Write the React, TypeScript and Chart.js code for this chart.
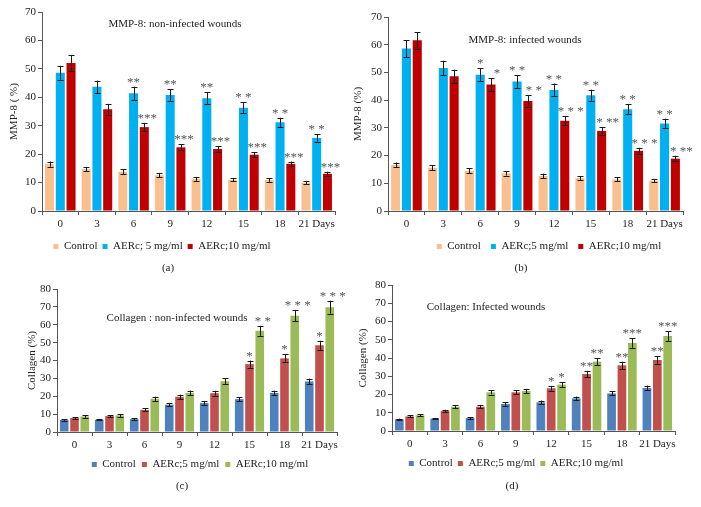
import React, { useEffect, useRef } from "react";
import { Chart, registerables } from "chart.js";

Chart.register(...registerables);

const FONT = "'Liberation Serif', 'DejaVu Serif', serif";

// ---- categories ----
const days = ["0", "3", "6", "9", "12", "15", "18", "21 Days"];

// ---- (a) MMP-8: non-infected wounds ----
const mmpNonControl = [16.5, 14.7, 13.8, 12.6, 11.3, 11.0, 10.9, 10.0];
const mmpNonControlErr = [0.9, 0.8, 0.8, 0.8, 0.7, 0.6, 0.6, 0.6];
const mmpNon5 = [48.6, 43.7, 41.4, 40.8, 39.7, 36.3, 31.2, 25.7];
const mmpNon5Err = [2.5, 2.2, 2.3, 2.1, 2.0, 1.9, 1.6, 1.3];
const mmpNon10 = [52.1, 35.8, 29.5, 22.4, 21.8, 19.8, 16.6, 13.1];
const mmpNon10Err = [2.8, 1.9, 1.5, 1.1, 1.0, 0.8, 0.8, 0.7];
const mmpNon5Notes = ["", "", "**", "**", "**", "* *", "* *", "* *"];
const mmpNon10Notes = ["", "", "***", "***", "***", "***", "***", "***"];

// ---- (b) MMP-8: infected wounds ----
const mmpInfControl = [16.6, 15.6, 14.5, 13.6, 12.7, 11.9, 11.4, 11.0];
const mmpInfControlErr = [0.9, 0.9, 0.9, 0.8, 0.8, 0.7, 0.7, 0.6];
const mmpInf5 = [58.6, 51.6, 49.2, 46.7, 43.7, 41.8, 36.7, 31.6];
const mmpInf5Err = [3.0, 2.6, 2.4, 2.4, 2.3, 2.0, 1.8, 1.7];
const mmpInf10 = [61.6, 48.6, 45.6, 39.7, 32.6, 28.9, 21.7, 18.9];
const mmpInf10Err = [3.0, 2.4, 2.4, 2.0, 1.7, 1.4, 1.1, 1.0];
const mmpInf5Notes = ["", "", "*", "* *", "* *", "* *", "* *", "* *"];
const mmpInf10Notes = ["", "", "*", "* *", "* * *", "* **", "* * *", "* **"];

// ---- (c) Collagen: non-infected wounds ----
const colNonControl = [6.7, 6.9, 7.2, 15.3, 16.2, 18.4, 21.9, 28.3];
const colNonControlErr = [0.4, 0.4, 0.4, 1.0, 1.0, 1.0, 1.2, 1.6];
const colNon5 = [7.8, 8.9, 12.4, 19.7, 21.7, 38.0, 41.2, 48.5];
const colNon5Err = [0.5, 0.6, 0.8, 1.2, 1.3, 2.0, 2.2, 2.6];
const colNon10 = [8.7, 9.3, 18.6, 21.9, 28.4, 56.6, 65.1, 69.8];
const colNon10Err = [0.8, 0.8, 1.2, 1.3, 1.6, 2.8, 3.2, 3.6];
const colNon5Notes = ["", "", "", "", "", "*", "*", "*"];
const colNon10Notes = ["", "", "", "", "", "* *", "* * *", "* * *"];

// ---- (d) Collagen: Infected wounds ----
const colInfControl = [6.4, 6.8, 7.1, 14.8, 15.7, 17.9, 20.6, 23.6];
const colInfControlErr = [0.4, 0.4, 0.4, 0.9, 1.0, 1.0, 1.1, 1.3];
const colInf5 = [8.0, 11.0, 13.3, 21.2, 23.4, 31.2, 36.0, 38.9];
const colInf5Err = [0.5, 0.6, 0.7, 1.1, 1.3, 1.8, 2.0, 2.1];
const colInf10 = [8.6, 13.3, 21.2, 21.9, 25.4, 38.0, 48.2, 52.1];
const colInf10Err = [0.5, 0.8, 1.2, 1.2, 1.4, 2.0, 2.6, 2.7];
const colInf5Notes = ["", "", "", "", "*", "**", "**", "**"];
const colInf10Notes = ["", "", "", "", "*", "**", "***", "***"];

// ---- plugins ----
const errorBars = {
  id: "errorBars",
  afterDatasetsDraw(chart: any) {
    const ctx = chart.ctx;
    const ys = chart.scales.y;
    chart.data.datasets.forEach((ds: any, i: number) => {
      const meta = chart.getDatasetMeta(i);
      meta.data.forEach((bar: any, j: number) => {
        const v = ds.data[j];
        const e = ds.errors ? ds.errors[j] : 0;
        const yt = ys.getPixelForValue(v + e);
        const yb = ys.getPixelForValue(v - e);
        const x = Math.round(bar.x) + 0.5;
        ctx.save();
        ctx.strokeStyle = "#1a1a1a";
        ctx.lineWidth = 1;
        ctx.beginPath();
        ctx.moveTo(x, yt);
        ctx.lineTo(x, yb);
        ctx.moveTo(x - 3, Math.round(yt) + 0.5);
        ctx.lineTo(x + 3, Math.round(yt) + 0.5);
        ctx.moveTo(x - 3, Math.round(yb) + 0.5);
        ctx.lineTo(x + 3, Math.round(yb) + 0.5);
        ctx.stroke();
        const note = ds.notes ? ds.notes[j] : "";
        if (note) {
          ctx.fillStyle = "#555";
          ctx.font = `13px ${FONT}`;
          ctx.textAlign = "center";
          ctx.textBaseline = "alphabetic";
          ctx.fillText(note, bar.x + (ds.noteDx || 0), yt - 1);
        }
        ctx.restore();
      });
    });
  },
};

const innerTitle = {
  id: "innerTitle",
  afterDraw(chart: any, _args: any, opts: any) {
    if (!opts || !opts.text) return;
    const ctx = chart.ctx;
    ctx.save();
    ctx.fillStyle = "#222";
    ctx.font = `11px ${FONT}`;
    ctx.textAlign = "center";
    ctx.textBaseline = "middle";
    ctx.fillText(opts.text, opts.x, opts.y);
    ctx.restore();
  },
};

const legendShift = {
  id: "legendShift",
  afterLayout(chart: any, _args: any, opts: any) {
    const lg = chart.legend;
    if (!lg || opts == null || opts.center == null) return;
    const dx = opts.center - (lg.left + lg.right) / 2;
    lg.left += dx;
    lg.right += dx;
  },
};

type Series = {
  label: string;
  data: number[];
  err: number[];
  color: string;
  notes?: string[];
  noteDx?: number;
};

type PanelProps = {
  left: number;
  top: number;
  width: number;
  height: number;
  pad: { left: number; right: number; top: number; bottom: number };
  yWidth: number;
  xHeight: number;
  yMax: number;
  yTitle: string;
  titlePad: number;
  series: Series[];
  inner: { text: string; x: number; y: number };
  legendCenter: number;
  legendPad: number;
};

function Panel(p: PanelProps) {
  const ref = useRef<HTMLCanvasElement>(null);
  useEffect(() => {
    const chart = new Chart(ref.current as HTMLCanvasElement, {
      type: "bar",
      data: {
        labels: days,
        datasets: p.series.map((s) => ({
          label: s.label,
          data: s.data,
          backgroundColor: s.color,
          borderWidth: 0,
          categoryPercentage: 0.88,
          barPercentage: 0.84,
          errors: s.err,
          notes: s.notes,
          noteDx: s.noteDx || 0,
        })) as any,
      },
      options: {
        responsive: false,
        animation: false,
        devicePixelRatio: 1,
        layout: { padding: p.pad },
        scales: {
          x: {
            ticks: {
              color: "#222",
              font: { family: FONT, size: 11 },
              padding: 3,
              autoSkip: false,
              maxRotation: 0,
            },
            grid: {
              drawOnChartArea: false,
              drawTicks: true,
              tickLength: 4,
              color: "#555",
              offset: true,
            },
            border: { display: true, color: "#555" },
            afterFit: (s: any) => {
              s.height = p.xHeight;
            },
          },
          y: {
            min: 0,
            max: p.yMax,
            ticks: {
              stepSize: 10,
              color: "#222",
              font: { family: FONT, size: 11 },
              padding: 2,
            },
            grid: {
              drawOnChartArea: false,
              drawTicks: true,
              tickLength: 4,
              color: "#555",
            },
            border: { display: true, color: "#555" },
            title: {
              display: true,
              text: p.yTitle,
              color: "#222",
              font: { family: FONT, size: 11 },
              padding: p.titlePad,
            },
            afterFit: (s: any) => {
              s.width = p.yWidth;
            },
          },
        },
        plugins: {
          legend: {
            display: true,
            position: "bottom",
            labels: {
              boxWidth: 5,
              boxHeight: 5,
              padding: p.legendPad,
              color: "#222",
              font: { family: FONT, size: 11 },
            },
          },
          tooltip: { enabled: false },
          innerTitle: p.inner,
          legendShift: { center: p.legendCenter },
        } as any,
      },
      plugins: [errorBars, innerTitle, legendShift],
    });
    return () => chart.destroy();
  }, []);
  return (
    <canvas
      ref={ref}
      width={p.width}
      height={p.height}
      style={{
        position: "absolute",
        left: p.left,
        top: p.top,
        width: p.width,
        height: p.height,
      }}
    />
  );
}

const Caption = ({ text, x, y }: { text: string; x: number; y: number }) => (
  <div
    style={{
      position: "absolute",
      left: x - 20,
      top: y - 7,
      width: 40,
      textAlign: "center",
      font: `11px ${FONT}`,
      lineHeight: "14px",
      color: "#222",
    }}
  >
    {text}
  </div>
);

const peach = "#F9BF8F";
const sky = "#00B0F0";
const crimson = "#C00000";
const blue = "#4F81BD";
const red = "#C0504D";
const green = "#9BBB59";

export default function App() {
  return (
    <div
      style={{
        position: "absolute",
        left: 0,
        top: 0,
        width: 701,
        height: 507,
        background: "#fff",
        overflow: "hidden",
      }}
    >
      <Panel
        left={0}
        top={0}
        width={345}
        height={262}
        pad={{ left: 4, right: 10, top: 12, bottom: 0 }}
        yWidth={38}
        xHeight={25}
        yMax={70}
        yTitle="MMP-8 ( %)"
        titlePad={4}
        legendCenter={162}
        legendPad={5}
        inner={{ text: "MMP-8: non-infected wounds", x: 175, y: 24 }}
        series={[
          { label: "Control", data: mmpNonControl, err: mmpNonControlErr, color: peach },
          { label: "AERc; 5 mg/ml", data: mmpNon5, err: mmpNon5Err, color: sky, notes: mmpNon5Notes },
          { label: "AERc;10 mg/ml", data: mmpNon10, err: mmpNon10Err, color: crimson, notes: mmpNon10Notes, noteDx: 3 },
        ]}
      />
      <Panel
        left={350}
        top={0}
        width={343}
        height={262}
        pad={{ left: 0, right: 10, top: 17, bottom: 0 }}
        yWidth={38}
        xHeight={20}
        yMax={70}
        yTitle="MMP-8 (%)"
        titlePad={2}
        legendCenter={199}
        legendPad={10}
        inner={{ text: "MMP-8: infected wounds", x: 175, y: 40 }}
        series={[
          { label: "Control", data: mmpInfControl, err: mmpInfControlErr, color: peach },
          { label: "AERc;5 mg/ml", data: mmpInf5, err: mmpInf5Err, color: sky, notes: mmpInf5Notes },
          { label: "AERc;10 mg/ml", data: mmpInf10, err: mmpInf10Err, color: crimson, notes: mmpInf10Notes, noteDx: 6 },
        ]}
      />
      <Panel
        left={0}
        top={260}
        width={347}
        height={220}
        pad={{ left: 22, right: 10, top: 29, bottom: 0 }}
        yWidth={35}
        xHeight={21}
        yMax={80}
        yTitle="Collagen (%)"
        titlePad={4}
        legendCenter={200}
        legendPad={6}
        inner={{ text: "Collagen : non-infected wounds", x: 177, y: 58 }}
        series={[
          { label: "Control", data: colNonControl, err: colNonControlErr, color: blue },
          { label: "AERc;5 mg/ml", data: colNon5, err: colNon5Err, color: red, notes: colNon5Notes },
          { label: "AERc;10 mg/ml", data: colNon10, err: colNon10Err, color: green, notes: colNon10Notes, noteDx: 3 },
        ]}
      />
      <Panel
        left={350}
        top={260}
        width={335}
        height={219}
        pad={{ left: 3, right: 10, top: 25, bottom: 0 }}
        yWidth={39}
        xHeight={22}
        yMax={80}
        yTitle="Collagen (%)"
        titlePad={4}
        legendCenter={166}
        legendPad={5}
        inner={{ text: "Collagen: Infected wounds", x: 136, y: 47 }}
        series={[
          { label: "Control", data: colInfControl, err: colInfControlErr, color: blue },
          { label: "AERc;5 mg/ml", data: colInf5, err: colInf5Err, color: red, notes: colInf5Notes },
          { label: "AERc;10 mg/ml", data: colInf10, err: colInf10Err, color: green, notes: colInf10Notes },
        ]}
      />
      <Caption text="(a)" x={168} y={267} />
      <Caption text="(b)" x={521} y={267} />
      <Caption text="(c)" x={182} y={485} />
      <Caption text="(d)" x={512} y={485} />
    </div>
  );
}
